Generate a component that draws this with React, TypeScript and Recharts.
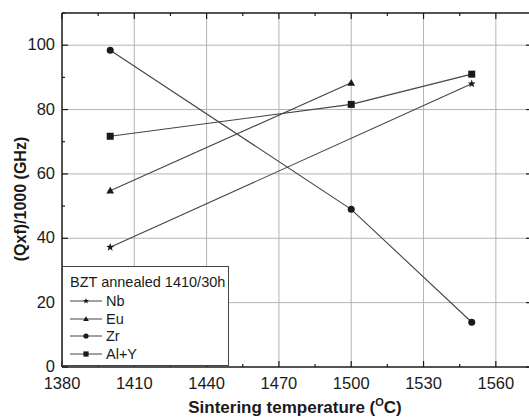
import React from 'react';
import { LineChart, Line, XAxis, YAxis, ReferenceLine } from 'recharts';

// Sintering temperatures (°C)
const temperatures = [1400, 1500, 1550];
// (Qxf)/1000 in GHz for each dopant; null where not measured
const nbValues = [37.2, null, 88.0];
const euValues = [54.8, 88.3, null];
const zrValues = [98.4, 49.0, 13.9];
const alYValues = [71.7, 81.6, 91.0];

const seriesDefs = [
  { key: 'Nb', label: 'Nb', values: nbValues, marker: 'star' },
  { key: 'Eu', label: 'Eu', values: euValues, marker: 'triangle' },
  { key: 'Zr', label: 'Zr', values: zrValues, marker: 'circle' },
  { key: 'AlY', label: 'Al+Y', values: alYValues, marker: 'square' },
];

const legendTitle = 'BZT annealed 1410/30h';
const xTicks = [1380, 1395, 1410, 1425, 1440, 1455, 1470, 1485, 1500, 1515, 1530, 1545, 1560];
const xMajor = [1380, 1410, 1440, 1470, 1500, 1530, 1560];
const yTicks = [0, 10, 20, 30, 40, 50, 60, 70, 80, 90, 100, 110];
const yMajor = [0, 20, 40, 60, 80, 100];

const rows = temperatures.map((t, i) => {
  const row: Record<string, number | null> = { t };
  seriesDefs.forEach((s) => {
    row[s.key] = s.values[i];
  });
  return row;
});

const FONT = '"Liberation Sans", Arial, Helvetica, sans-serif';
const INK = '#1a1a1a';
const LINE = '#444';
const GRID = '#b4b4b4';

function starPath(cx: number, cy: number, R: number, r: number) {
  let d = '';
  for (let i = 0; i < 10; i++) {
    const ang = -Math.PI / 2 + (i * Math.PI) / 5;
    const rad = i % 2 === 0 ? R : r;
    const x = cx + rad * Math.cos(ang);
    const y = cy + rad * Math.sin(ang);
    d += (i === 0 ? 'M' : 'L') + x.toFixed(2) + ',' + y.toFixed(2);
  }
  return d + 'Z';
}

function Marker({ kind, cx, cy, s }: { kind: string; cx: number; cy: number; s: number }) {
  if (kind === 'star') return <path d={starPath(cx, cy, s * 1.2, s * 0.5)} fill={INK} />;
  if (kind === 'triangle')
    return <path d={`M${cx},${cy - s * 1.1}L${cx + s * 1.1},${cy + s * 0.8}L${cx - s * 1.1},${cy + s * 0.8}Z`} fill={INK} />;
  if (kind === 'circle') return <circle cx={cx} cy={cy} r={s} fill={INK} />;
  return <rect x={cx - s} y={cy - s} width={s * 2} height={s * 2} fill={INK} />;
}

const makeDot = (kind: string) => (props: any) => {
  const { cx, cy, value, index } = props;
  if (value == null || cx == null || cy == null) return <g key={`e${index}`} />;
  return (
    <g key={`d${index}`}>
      <Marker kind={kind} cx={cx} cy={cy} s={3.5} />
    </g>
  );
};

const BottomTick = (props: any) => {
  const { x, y, payload } = props;
  const major = xMajor.includes(payload.value);
  return (
    <g>
      <line x1={x} y1={y} x2={x} y2={y - (major ? 6 : 3)} stroke={INK} strokeWidth={1.2} />
      {major && (
        <text x={x} y={y + 21.5} textAnchor="middle" fontFamily={FONT} fontSize={16.5} fill={INK}>
          {payload.value}
        </text>
      )}
    </g>
  );
};

const TopTick = (props: any) => {
  const { x, y, payload } = props;
  const major = xMajor.includes(payload.value);
  return <line x1={x} y1={y} x2={x} y2={y + (major ? 6 : 3)} stroke={INK} strokeWidth={1.2} />;
};

const LeftTick = (props: any) => {
  const { x, y, payload } = props;
  const major = yMajor.includes(payload.value);
  return (
    <g>
      <line x1={x} y1={y} x2={x + (major ? 6 : 3)} y2={y} stroke={INK} strokeWidth={1.2} />
      {major && (
        <text x={x - 7} y={y + 5} textAnchor="end" fontFamily={FONT} fontSize={16.5} fill={INK}>
          {payload.value}
        </text>
      )}
    </g>
  );
};

const RightTick = (props: any) => {
  const { x, y, payload } = props;
  const major = yMajor.includes(payload.value);
  return <line x1={x} y1={y} x2={x - (major ? 6 : 3)} y2={y} stroke={INK} strokeWidth={1.2} />;
};

const XTitle = () => (
  <text x={295} y={413} textAnchor="middle" fontFamily={FONT} fontSize={17} fontWeight="bold" fill={INK}>
    Sintering temperature (
    <tspan fontSize={11} dy={-7}>O</tspan>
    <tspan dy={7}>C)</tspan>
  </text>
);

const YTitle = () => (
  <text
    x={0}
    y={0}
    transform="translate(26,199) rotate(-90)"
    textAnchor="middle"
    fontFamily={FONT}
    fontSize={16}
    fontWeight="bold"
    fill={INK}
  >
    (Qxf)/1000 (GHz)
  </text>
);

function LegendBox() {
  return (
    <div
      style={{
        position: 'absolute',
        left: 62,
        top: 266,
        width: 167,
        height: 100,
        border: `1px solid ${LINE}`,
        background: '#fff',
        fontFamily: FONT,
        color: INK,
        boxSizing: 'border-box',
      }}
    >
      <div style={{ position: 'absolute', left: 7, top: 7, fontSize: 14.5, whiteSpace: 'nowrap' }}>{legendTitle}</div>
      {seriesDefs.map((s, i) => (
        <div
          key={s.key}
          style={{ position: 'absolute', left: 6, top: 26 + i * 17.7, height: 16, display: 'flex', alignItems: 'center' }}
        >
          <svg width={34} height={16}>
            <line x1={1} y1={8} x2={33} y2={8} stroke={LINE} strokeWidth={1} />
            <Marker kind={s.marker} cx={17} cy={8} s={2.6} />
          </svg>
          <span style={{ fontSize: 14.5, marginLeft: 3 }}>{s.label}</span>
        </div>
      ))}
    </div>
  );
}

const axisLine = { stroke: INK, strokeWidth: 1.5 };

export default function App() {
  return (
    <div style={{ position: 'absolute', left: 0, top: 0, width: 529, height: 418, overflow: 'hidden', background: '#fff' }}>
      <LineChart width={529} height={418} data={rows} margin={{ top: 12, right: -4, bottom: 50, left: 61 }}>
        <XAxis
          xAxisId="b"
          dataKey="t"
          type="number"
          domain={[1380, 1575]}
          ticks={xTicks}
          interval={0}
          height={1}
          tickSize={0}
          tickMargin={0}
          tick={<BottomTick />}
          axisLine={axisLine}
          tickLine={false}
          allowDataOverflow
          label={<XTitle />}
        />
        <XAxis
          xAxisId="t"
          orientation="top"
          dataKey="t"
          type="number"
          domain={[1380, 1575]}
          ticks={xTicks}
          interval={0}
          height={1}
          tickSize={0}
          tickMargin={0}
          tick={<TopTick />}
          axisLine={axisLine}
          tickLine={false}
          allowDataOverflow
        />
        <YAxis
          yAxisId="l"
          type="number"
          domain={[0, 110]}
          ticks={yTicks}
          interval={0}
          width={1}
          tickSize={0}
          tickMargin={0}
          tick={<LeftTick />}
          axisLine={axisLine}
          tickLine={false}
          allowDataOverflow
          label={<YTitle />}
        />
        <YAxis
          yAxisId="r"
          orientation="right"
          type="number"
          domain={[0, 110]}
          ticks={yTicks}
          interval={0}
          width={1}
          tickSize={0}
          tickMargin={0}
          tick={<RightTick />}
          axisLine={axisLine}
          tickLine={false}
          allowDataOverflow
        />
        {xMajor.filter((v) => v > 1380).map((v) => (
          <ReferenceLine key={`gx${v}`} x={v} xAxisId="b" yAxisId="l" stroke={GRID} strokeWidth={1} />
        ))}
        {yMajor.filter((v) => v > 0).map((v) => (
          <ReferenceLine key={`gy${v}`} y={v} xAxisId="b" yAxisId="l" stroke={GRID} strokeWidth={1} />
        ))}
        {seriesDefs.map((s) => (
          <Line
            key={s.key}
            xAxisId="b"
            yAxisId="l"
            dataKey={s.key}
            type="linear"
            stroke={LINE}
            strokeWidth={1.1}
            connectNulls
            dot={makeDot(s.marker)}
            activeDot={false}
            isAnimationActive={false}
          />
        ))}
      </LineChart>
      <LegendBox />
    </div>
  );
}
